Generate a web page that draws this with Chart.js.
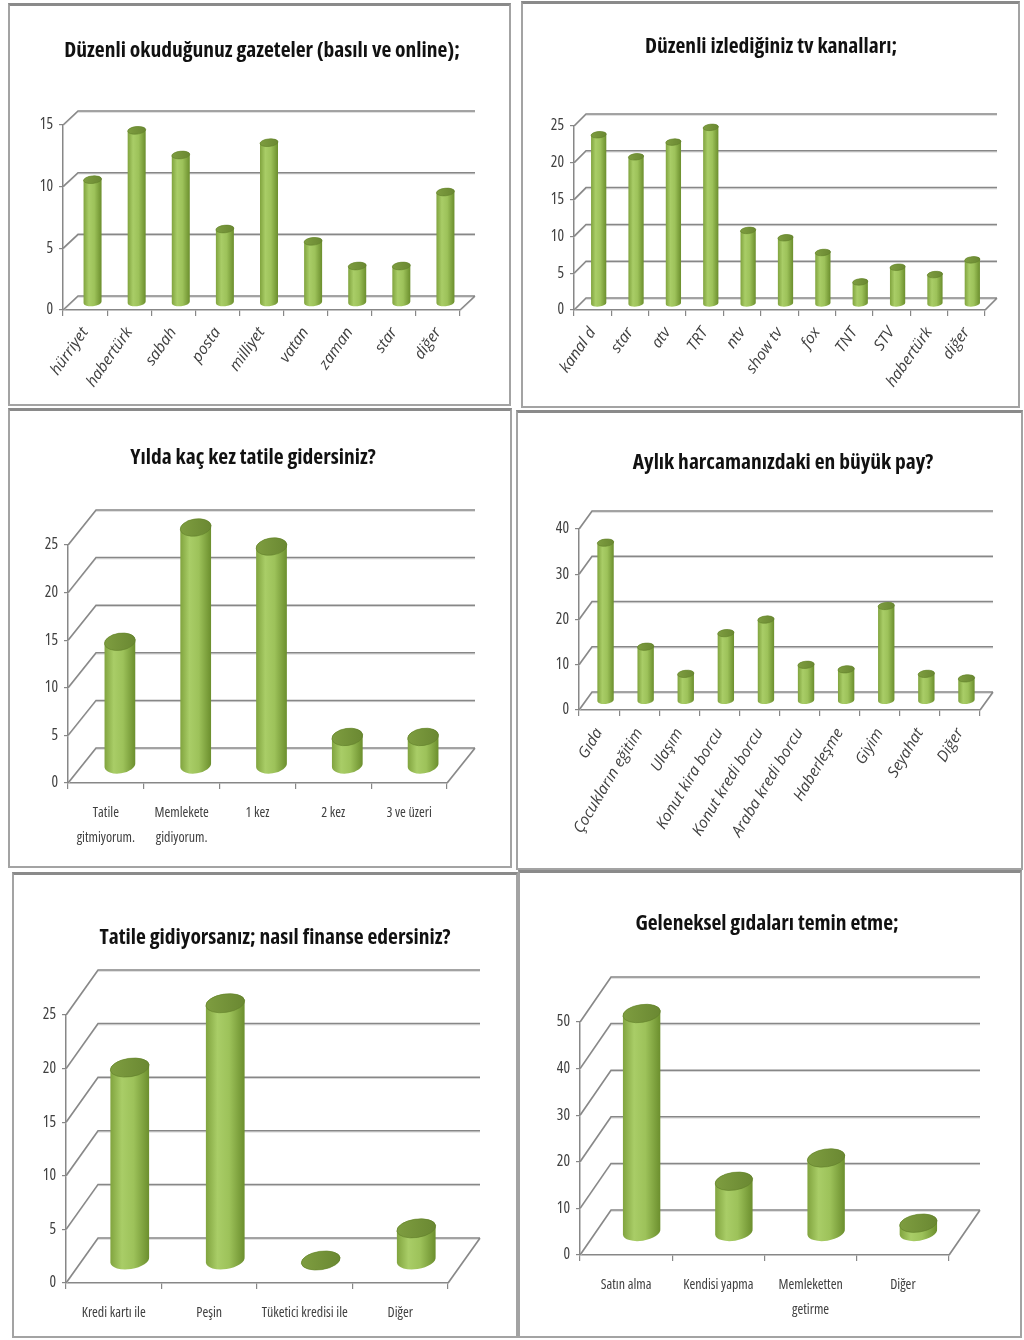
<!DOCTYPE html>
<html><head><meta charset="utf-8">
<script src="https://cdn.jsdelivr.net/npm/chart.js@4.4.1/dist/chart.umd.min.js"></script>
<style>
html,body{margin:0;padding:0;background:#fff;width:1024px;height:1340px;overflow:hidden;}
.panel{position:absolute;box-sizing:border-box;border:2px solid #a3a3a3;border-top:3px solid #8a8a8a;pointer-events:none;z-index:2;}
canvas{position:absolute;}
</style></head>
<body>
<script>
// ---------- DATA ----------
const newsTitle = 'Düzenli okuduğunuz gazeteler (basılı ve online);';
const newsLabels = ['hürriyet','habertürk','sabah','posta','milliyet','vatan','zaman','star','diğer'];
const newsValues = [10,14,12,6,13,5,3,3,9];
const newsTicks = [0,5,10,15];

const tvTitle = 'Düzenli izlediğiniz tv kanalları;';
const tvLabels = ['kanal d','star','atv','TRT','ntv','show tv','fox','TNT','STV','habertürk','diğer'];
const tvValues = [23,20,22,24,10,9,7,3,5,4,6];
const tvTicks = [0,5,10,15,20,25];

const tatilTitle = 'Yılda kaç kez tatile gidersiniz?';
const tatilLabels = [['Tatile','gitmiyorum.'],['Memlekete','gidiyorum.'],'1 kez','2 kez','3 ve üzeri'];
const tatilValues = [13,25,23,3,3];
const tatilTicks = [0,5,10,15,20,25];

const harcamaTitle = 'Aylık harcamanızdaki en büyük pay?';
const harcamaLabels = ['Gıda','Çocukların eğitim','Ulaşım','Konut kira borcu','Konut kredi borcu','Araba kredi borcu','Haberleşme','Giyim','Seyahat','Diğer'];
const harcamaValues = [35,12,6,15,18,8,7,21,6,5];
const harcamaTicks = [0,10,20,30,40];

const finansTitle = 'Tatile gidiyorsanız; nasıl finanse edersiniz?';
const finansLabels = ['Kredi kartı ile','Peşin','Tüketici kredisi ile','Diğer'];
const finansValues = [18,24,0,3];
const finansTicks = [0,5,10,15,20,25];

const gidaTitle = 'Geleneksel gıdaları temin etme;';
const gidaLabels = ['Satın alma','Kendisi yapma',['Memleketten','getirme'],'Diğer'];
const gidaValues = [47,11,16,2];
const gidaTicks = [0,10,20,30,40,50];

// ---------- RENDERING ----------
const FONT = "'Open Sans','DejaVu Sans Condensed',sans-serif";
Chart.defaults.font.family = FONT;
Chart.defaults.color = '#404040';

function drawCyl(ctx, cx, yTop, yBase, w, k, rot) {
  const rx = w / 2, ry = rx * k;
  const g = ctx.createLinearGradient(cx - rx, 0, cx + rx, 0);
  g.addColorStop(0, '#80a33e');
  g.addColorStop(0.3, '#a9cd67');
  g.addColorStop(0.6, '#9dc25a');
  g.addColorStop(1, '#6b8e2d');
  ctx.beginPath();
  ctx.ellipse(cx, yBase, rx, ry, rot, Math.PI, 0, true);
  ctx.ellipse(cx, yTop, rx, ry, rot, 0, Math.PI, true);
  ctx.closePath();
  ctx.fillStyle = g;
  ctx.fill();
  ctx.beginPath();
  ctx.ellipse(cx, yTop, rx, ry, rot, 0, 2 * Math.PI);
  const g2 = ctx.createLinearGradient(cx - rx, 0, cx + rx, 0);
  g2.addColorStop(0, '#7e9d40');
  g2.addColorStop(1, '#6a8832');
  ctx.fillStyle = g2;
  ctx.fill();
  ctx.strokeStyle = 'rgba(95,125,40,0.7)';
  ctx.lineWidth = 0.8;
  ctx.stroke();
}

const cyl3d = {
  id: 'cyl3d',
  beforeDatasetsDraw(chart, args, o) {
    const { ctx, chartArea: a } = chart;
    const y = chart.scales.y;
    ctx.save();
    const pass = (off, col, lw) => {
      ctx.beginPath();
      ctx.strokeStyle = col; ctx.lineWidth = lw;
      y.ticks.forEach(t => {
        const py = y.getPixelForValue(t.value) + off;
        ctx.moveTo(a.left, py);
        ctx.lineTo(a.left + o.dx, py - o.dy);
        ctx.lineTo(a.right + o.dx, py - o.dy);
      });
      const p0 = y.getPixelForValue(0) + off;
      ctx.moveTo(a.right, p0);
      ctx.lineTo(a.right + o.dx, p0 - o.dy);
      ctx.stroke();
    };
    pass(1.2, '#d4d4d4', 1);
    pass(0, '#878787', 1.5);
    ctx.restore();
  },
  afterDatasetsDraw(chart, args, o) {
    const ctx = chart.ctx;
    ctx.save();
    chart.getDatasetMeta(0).data.forEach(el => {
      drawCyl(ctx, el.x + o.dx / 2, el.y - o.dy / 2, el.base - o.dy / 2, el.width, o.k, o.rot);
    });
    ctx.restore();
  }
};

function make(p) {
  const cv = document.createElement('canvas');
  cv.width = p.w; cv.height = p.h;
  cv.style.left = p.x + 'px'; cv.style.top = p.y + 'px';
  document.body.appendChild(cv);
  const bd = document.createElement('div');
  bd.className = 'panel';
  bd.style.left = p.x + 'px'; bd.style.top = p.y + 'px';
  bd.style.width = p.w + 'px'; bd.style.height = p.h + 'px';
  document.body.appendChild(bd);
  const tSize = 21.5, tLh = 1.2;
  const tTop = p.tcy - tSize * tLh / 2;
  const tBot = p.T - tTop - tSize * tLh;
  const pl = p.pl || 0, pr = p.pr || 0;
  new Chart(cv, {
    type: 'bar',
    data: {
      labels: p.labels,
      datasets: [{ data: p.values, backgroundColor: 'rgba(0,0,0,0)', borderWidth: 0,
                   barPercentage: 0.41, categoryPercentage: 1, yAxisID: 'y' }]
    },
    options: {
      responsive: false, animation: false, devicePixelRatio: 1,
      layout: { padding: { left: pl, right: pr, top: 0, bottom: 0 } },
      plugins: {
        legend: { display: false }, tooltip: { enabled: false },
        title: { display: true, text: p.title, color: '#111',
                 font: { size: tSize, weight: 'bold condensed', lineHeight: tLh },
                 padding: { top: tTop, bottom: tBot } },
        cyl3d: { dx: p.dx, dy: p.dy, k: p.k, rot: p.rot }
      },
      scales: {
        x: {
          grid: { offset: true, drawOnChartArea: false, drawTicks: true, tickLength: 6, color: '#878787', lineWidth: 1.2 },
          border: { display: true, color: '#878787', width: 1.5 },
          ticks: { autoSkip: false, maxRotation: p.rotL, minRotation: p.rotL, padding: p.xpad,
                   color: '#404040',
                   font: { size: p.xfs || 14, style: p.italic ? 'italic' : 'normal',
                           weight: p.italic ? 'normal' : 'normal condensed',
                           lineHeight: p.xlh || 1.2 } },
          afterFit: s => { s.height = p.h - p.B; }
        },
        y: {
          min: 0, max: p.ticks[p.ticks.length - 1],
          afterBuildTicks: s => { s.ticks = p.ticks.map(v => ({ value: v })); },
          grid: { drawOnChartArea: false, drawTicks: true, tickLength: 4, color: '#878787', lineWidth: 1.2 },
          border: { display: true, color: '#878787', width: 1.5 },
          ticks: { padding: 6, color: '#404040', font: { size: 15.5, weight: 'normal condensed' } },
          afterFit: s => { s.width = p.L - pl; }
        },
        y2: {
          position: 'right', display: true,
          grid: { display: false }, border: { display: false }, ticks: { display: false },
          afterFit: s => { s.width = p.w - pr - p.R; }
        }
      }
    },
    plugins: [cyl3d]
  });
}

make({ x: 8, y: 3, w: 503, h: 403, L: 55, R: 452, T: 122, B: 307, tcy: 48, pl: 5,
       dx: 15, dy: 14, k: 0.42, rot: -0.1, rotL: 55, italic: true, xpad: 8, xfs: 15.5,
       title: newsTitle, labels: newsLabels, values: newsValues, ticks: newsTicks });
make({ x: 521, y: 1, w: 499, h: 407, L: 53, R: 464, T: 125, B: 309, tcy: 46, pl: 1,
       dx: 12, dy: 12, k: 0.42, rot: -0.1, rotL: 55, italic: true, xpad: 8, xfs: 15.5,
       title: tvTitle, labels: tvLabels, values: tvValues, ticks: tvTicks });
make({ x: 8, y: 408, w: 504, h: 460, L: 60, R: 439, T: 137, B: 375, tcy: 50, pr: 14,
       dx: 28, dy: 35, k: 0.55, rot: -0.15, rotL: 0, italic: false, xpad: 11, xlh: 1.8,
       title: tatilTitle, labels: tatilLabels, values: tatilValues, ticks: tatilTicks });
make({ x: 516, y: 410, w: 507, h: 460, L: 63, R: 464, T: 119, B: 300, tcy: 53, pl: 27,
       dx: 13, dy: 18, k: 0.44, rot: -0.1, rotL: 59, italic: true, xpad: 9, xfs: 15.5,
       title: harcamaTitle, labels: harcamaLabels, values: harcamaValues, ticks: harcamaTicks });
make({ x: 12, y: 872, w: 506, h: 466, L: 54, R: 436, T: 143, B: 411, tcy: 66, pl: 20,
       dx: 32, dy: 45, k: 0.47, rot: -0.15, rotL: 0, italic: false, xpad: 16,
       title: finansTitle, labels: finansLabels, values: finansValues, ticks: finansTicks });
make({ x: 518, y: 870, w: 504, h: 468, L: 62, R: 431, T: 152, B: 385, tcy: 54, pr: 6,
       dx: 31, dy: 45, k: 0.47, rot: -0.15, rotL: 0, italic: false, xpad: 11, xlh: 1.8,
       title: gidaTitle, labels: gidaLabels, values: gidaValues, ticks: gidaTicks });
</script>
</body></html>
